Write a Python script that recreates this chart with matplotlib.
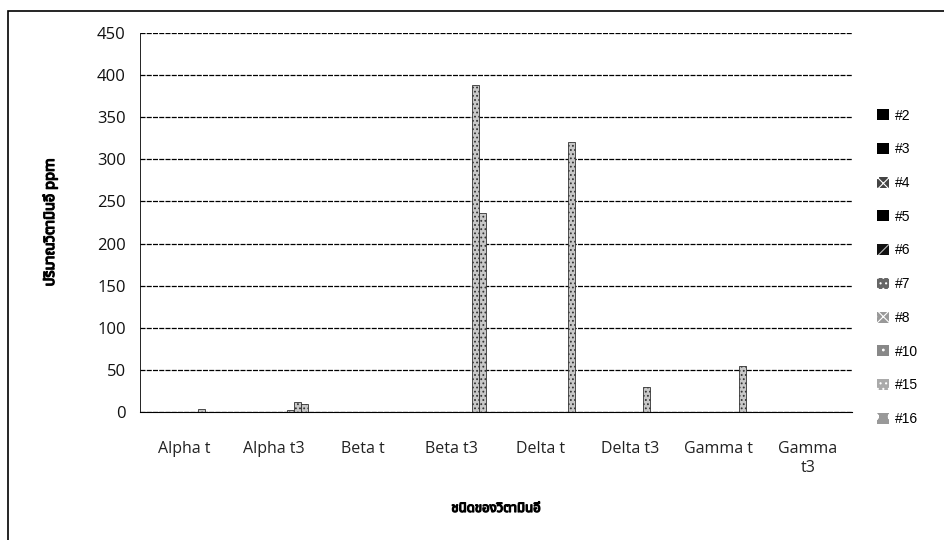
import numpy as np
import matplotlib.pyplot as plt
import matplotlib.patheffects as pe
from matplotlib.patches import Rectangle

plt.rcParams['font.family'] = ['Noto Sans Thai', 'Open Sans', 'DejaVu Sans']
plt.rcParams['hatch.linewidth'] = 0.8

categories = ["Alpha t", "Alpha t3", "Beta t", "Beta t3", "Delta t", "Delta t3", "Gamma t", "Gamma\nt3"]
series = ["#2", "#3", "#4", "#5", "#6", "#7", "#8", "#10", "#15", "#16"]

# values per series (ppm)
s2 = [0, 0, 0, 0, 0, 0, 0, 0]
s3 = [0, 0, 0, 0, 0, 0, 0, 0]
s4 = [0, 0, 0, 0, 0, 0, 0, 0]
s5 = [0, 0, 0, 0, 0, 0, 0, 0]
s6 = [0, 0, 0, 0, 0, 0, 0, 0]
s7 = [0, 0, 0, 0, 0, 0, 0, 0]
s8 = [0, 0, 0, 0, 0, 0, 0, 0]
s10 = [3, 2, 0, 0, 0, 30, 0, 0]
s15 = [0, 12, 0, 388, 0, 0, 55, 0]
s16 = [0, 10, 0, 236, 320, 0, 0, 0]
values = [s2, s3, s4, s5, s6, s7, s8, s10, s15, s16]

# legend swatch look (scanned patterns)
faces = ["black", "black", "#444444", "black", "#111111", "#666666", "#999999", "#888888", "#aaaaaa", "#999999"]
hatch_cols = ["black", "black", "white", "black", "#bbbbbb", "white", "white", "white", "white", "white"]
hatches = [None, None, "xxx", None, "//", "...", "x.", "..", "...", "o."]

fig = plt.figure(figsize=(9.44, 5.4), dpi=100)
ax = fig.add_axes([0.148, 0.237, 0.755, 0.702])

n = len(series)
x = np.arange(len(categories))
w = 1 / (n + 3.0)
for i, (name, vals) in enumerate(zip(series, values)):
    ax.bar(x + (i - (n - 1) / 2) * w, vals, width=w, color="#c8c8c8",
           edgecolor="#333333", hatch="....", linewidth=0.6, label=name)

ax.set_xlim(-0.5, len(categories) - 0.5)
ax.set_ylim(0, 450)
ax.set_yticks(np.arange(0, 451, 50))
ax.set_xticks(x)
ax.set_xticklabels(categories, fontsize=11.5, family=['Open Sans', 'DejaVu Sans'], color="#222222")
for lab in ax.get_yticklabels():
    lab.set_fontsize(12)
    lab.set_family(['Open Sans', 'DejaVu Sans'])
    lab.set_color("#111111")
ax.tick_params(length=0, pad=10)
ax.tick_params(axis='x', pad=21)
ax.yaxis.grid(True, color="black", linestyle=(0, (4, 1)), linewidth=0.9)
ax.set_axisbelow(True)
for s in ["top", "right"]:
    ax.spines[s].set_visible(False)
ax.spines["left"].set_linewidth(0.6)
ax.spines["bottom"].set_linestyle((0, (4, 1)))

bold = [pe.withStroke(linewidth=0.9, foreground="black")]
ax.set_ylabel("ปริมาณวิตามินอี ppm", fontsize=10.5, fontweight="bold", labelpad=28,
              path_effects=bold)
ax.set_xlabel("ชนิดของวิตามินอี", fontsize=9.5, fontweight="bold", labelpad=19,
              path_effects=bold)

# legend with patterned squares
handles = []
for i in range(n):
    handles.append(Rectangle((0, 0), 1, 1, facecolor=faces[i], edgecolor=hatch_cols[i],
                             hatch=hatches[i], linewidth=0))
fig.legend(handles, series, loc="center left", bbox_to_anchor=(0.916, 0.505),
           frameon=False, labelspacing=1.42, handlelength=0.85,
           handleheight=0.85, handletextpad=0.45,
           prop={'family': ['Liberation Sans', 'DejaVu Sans'], 'size': 10})

# outer frame of the scanned chart
fig.patches.append(Rectangle((0.009, -0.1), 1.2, 1.08, transform=fig.transFigure,
                             fill=False, edgecolor="black", linewidth=1.2))

fig.savefig("out.png", dpi=100)
